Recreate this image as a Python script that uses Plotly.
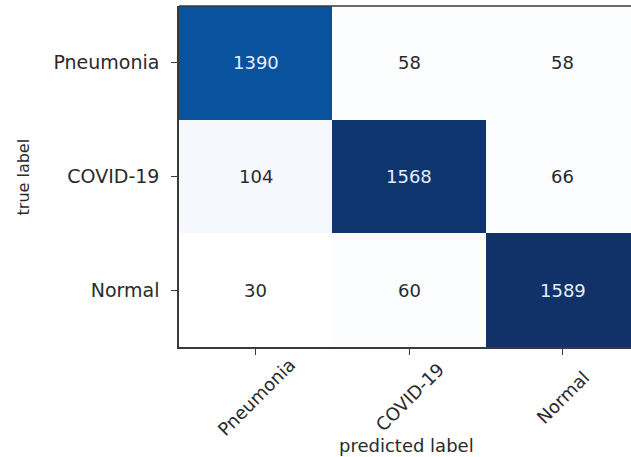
import plotly.graph_objects as go

classes = ["Pneumonia", "COVID-19", "Normal"]
true_labels = classes
pred_labels = classes
counts = [
    [1390, 58, 58],
    [104, 1568, 66],
    [30, 60, 1589],
]

blues = [
    [0.0, "rgb(255,255,255)"], [0.05, "rgb(244,249,254)"], [0.125, "rgb(222,235,247)"],
    [0.25, "rgb(198,219,239)"], [0.375, "rgb(158,202,225)"], [0.5, "rgb(107,174,214)"],
    [0.625, "rgb(66,146,198)"], [0.75, "rgb(33,113,181)"], [0.875, "rgb(8,81,156)"],
    [1.0, "rgb(16,50,105)"],
]

zmin = min(min(r) for r in counts)
zmax = max(max(r) for r in counts)
thresh = (zmin + zmax) / 2

FONT = "DejaVu Sans"
fig = go.Figure(go.Heatmap(
    z=counts, x=pred_labels, y=true_labels,
    colorscale=blues, zmin=zmin, zmax=zmax, showscale=False, hoverinfo="skip",
))

ann = []
for i, t in enumerate(true_labels):
    for j, p in enumerate(pred_labels):
        v = counts[i][j]
        ann.append(dict(x=p, y=t, xref="x", yref="y", text=str(v), showarrow=False,
                        font=dict(family=FONT, size=18,
                                  color="#e4eefa" if v > thresh else "#2a2a2a")))
for p in pred_labels:
    ann.append(dict(x=p, y=0, xref="x", yref="paper", yshift=-50, text=p,
                    textangle=-45, showarrow=False, xanchor="center", yanchor="middle",
                    font=dict(family=FONT, size=18, color="#2a2a2a")))
ann.append(dict(x=0.504, y=-0.29, xref="paper", yref="paper", text="predicted label",
                showarrow=False, xanchor="center", yanchor="middle",
                font=dict(family=FONT, size=18, color="#2a2a2a")))
ann.append(dict(x=-0.343, y=0.5, xref="paper", yref="paper", text="true label",
                textangle=-90, showarrow=False, xanchor="center", yanchor="middle",
                font=dict(family=FONT, size=16, color="#2a2a2a")))

fig.update_layout(
    width=631, height=457,
    margin=dict(l=179, r=0, t=6, b=110, pad=0),
    paper_bgcolor="white", plot_bgcolor="white",
    annotations=ann,
    shapes=[dict(type="line", xref="paper", yref="paper", x0=0, x1=1, y0=1, y1=1,
                 line=dict(color="#3a3a3a", width=1.5))],
    xaxis=dict(range=[-0.5, 2.445], showgrid=False, zeroline=False, showticklabels=False,
               ticks="outside", ticklen=6, tickwidth=1.2, tickcolor="#3a3a3a",
               showline=True, linecolor="#3a3a3a", linewidth=1.5),
    yaxis=dict(autorange="reversed", showgrid=False, zeroline=False,
               ticks="outside", ticklen=6, tickwidth=1.2, tickcolor="#3a3a3a",
               showline=True, linecolor="#3a3a3a", linewidth=1.5,
               ticklabelstandoff=8,
               tickfont=dict(family=FONT, size=19, color="#2a2a2a")),
)

fig.write_html("out.html", config={"displayModeBar": False},
               post_script="document.body.style.margin='0';")
